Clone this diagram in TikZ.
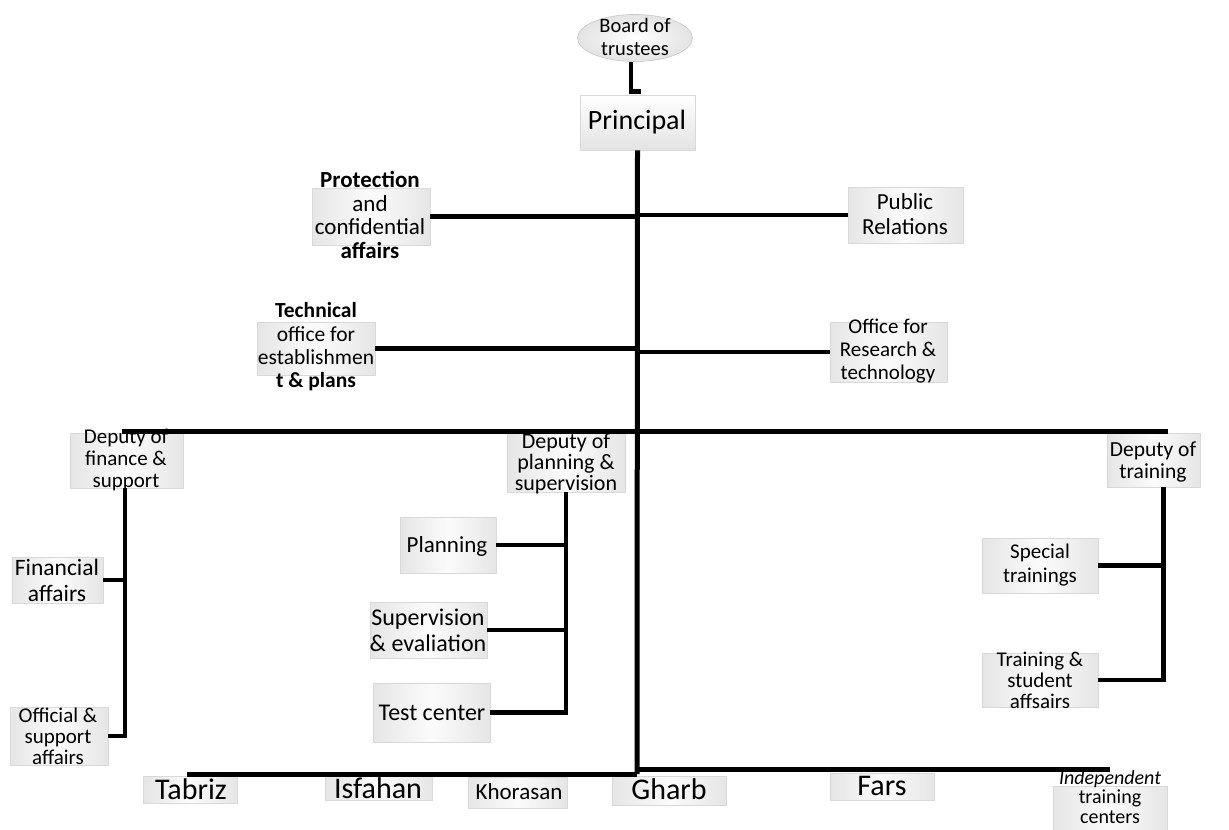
\documentclass[tikz,border=0pt]{standalone}
\usepackage{fontspec}
\setmainfont{Carlito}
\usetikzlibrary{shapes.geometric}
\newcommand{\fz}[2]{\fontsize{#1bp}{#2bp}\selectfont}
\begin{document}
\begin{tikzpicture}[x=1bp,y=-1bp,
  box/.style={rectangle, draw=gray!30, line width=0.6bp, left color=gray!20,
    right color=gray!20, middle color=gray!3, inner sep=0pt},
  lbl/.style={align=center, inner sep=0pt, text=black},
  conn/.style={line width=4.5bp, black},
  bus/.style={line width=5bp, black}]
\useasboundingbox (0,0) rectangle (1229,830);
\newcommand{\bx}[4]{\node[box, minimum width=#3bp, minimum height=#4bp] (#1) at (#2) {};}

% boxes
\node[ellipse, draw=gray!45, line width=0.6bp, inner color=white, outer color=gray!22,
  minimum width=115bp, minimum height=47bp] (board) at (635,38) {};
\node[box, top color=white, bottom color=gray!22, minimum width=115bp, minimum height=55bp] (principal) at (637.5,122.5) {};
\bx{prot}{371,216.5}{118}{57}
\bx{pub}{905.5,215}{115}{56}
\bx{tech}{316,348.5}{118}{53}
\bx{res}{888.5,352}{117}{60}
\bx{depfin}{126.5,460.5}{113}{55}
\bx{deppl}{566,462.5}{118}{59}
\bx{deptr}{1153.5,460}{93}{54}
\bx{fin}{57.5,580}{91}{46}
\bx{off}{59,736}{98}{58}
\bx{plan}{448,545}{96}{56}
\bx{sup}{428.5,630}{117}{56}
\bx{test}{431.5,712.5}{117}{59}
\bx{spec}{1040,565.5}{116}{55}
\bx{trst}{1040,680}{116}{54}
\bx{tabriz}{190,789.5}{94}{27}
\bx{isf}{378.5,788.5}{107}{24}
\bx{khor}{517.5,792.5}{99}{31}
\bx{gharb}{669,790.5}{114}{29}
\bx{fars}{882,786.5}{104}{27}
\bx{indep}{1110,808}{114}{44}

% labels
\node[lbl, font=\fz{20.5}{23}] (board-t) at (635,37) {Board of\\trustees};
\node[lbl, font=\fz{28}{30}] (principal-t) at (637,122) {Principal};
\node[lbl, font=\fz{23}{23.5}] (prot-t) at (370,215) {{\bfseries Protection}\\and\\confidential\\{\bfseries affairs}};
\node[lbl, font=\fz{23}{25}] (pub-t) at (905,214) {Public\\Relations};
\node[lbl, font=\fz{21.5}{23.3}] (tech-t) at (316,347) {{\bfseries Technical}\\office for\\establishmen\\{\bfseries t \& plans}};
\node[lbl, font=\fz{21}{23}] (res-t) at (888,351) {Office for\\Research \&\\technology};
\node[lbl, font=\fz{21}{22}] (depfin-t) at (126,460) {Deputy of\\finance \&\\support};
\node[lbl, font=\fz{22}{21}] (deppl-t) at (566,464) {Deputy of\\planning \&\\supervision};
\node[lbl, font=\fz{21.5}{22}] (deptr-t) at (1153,462) {Deputy of\\training};
\node[lbl, font=\fz{23.5}{26}] (fin-t) at (57,580) {Financial\\affairs};
\node[lbl, font=\fz{21}{21}] (off-t) at (58,736) {Official \&\\support\\affairs};
\node[lbl, font=\fz{23}{25}] (plan-t) at (447,546) {Planning};
\node[lbl, font=\fz{24}{26}] (sup-t) at (428,630) {Supervision\\\& evaliation};
\node[lbl, font=\fz{24}{26}] (test-t) at (432,713) {Test center};
\node[lbl, font=\fz{21}{24}] (spec-t) at (1040,565) {Special\\trainings};
\node[lbl, font=\fz{21}{21}] (trst-t) at (1040,680) {Training \&\\student\\affsairs};
\node[lbl, font=\fz{30}{30}] (tabriz-t) at (191,789) {Tabriz};
\node[lbl, font=\fz{30}{30}] (isf-t) at (378,788) {Isfahan};
\node[lbl, font=\fz{23}{25}] (khor-t) at (519,792) {Khorasan};
\node[lbl, font=\fz{30}{30}] (gharb-t) at (669,789) {Gharb};
\node[lbl, font=\fz{30}{30}] (fars-t) at (882,786) {Fars};
\node[lbl, font=\fz{20}{19.5}] (indep-t) at (1110,797) {{\itshape Independent}\\training\\centers};

% connectors
\coordinate (busL) at (122,431);
\coordinate (busR) at (1168,431);
\coordinate (tkbot) at (637,774);
\coordinate (bbL) at (187,774);
\coordinate (bbR) at (1110,769);

\draw[conn] (board.south -| 631,0) |- ([shift={(3,-3)}]principal.north);
\draw[bus] (principal.south) -- (tkbot);
\draw[conn] (prot.east) -- (prot.east -| principal.south);
\draw[conn] (pub.west -| principal.south) -- (pub.west);
\draw[conn] (tech.east) -- (tech.east -| principal.south);
\draw[conn] (res.west -| principal.south) -- (res.west);
\draw[bus] (busL) -- (busR);

\draw[conn] (depfin.south -| 125,0) |- (off.east);
\draw[conn] (fin.east) -- (fin.east -| 125,0);

\draw[conn] (deppl.south) |- (test.east);
\draw[conn] (plan.east) -- (plan.east -| deppl.south);
\draw[conn] (sup.east) -- (sup.east -| deppl.south);

\draw[conn] ([xshift=10bp]deptr.south) |- (trst.east);
\draw[conn] (spec.east) -- (spec.east -| 1163.5,0);

\draw[bus] (bbL) -- (tkbot);
\draw[bus] (tkbot |- bbR) -- (bbR);
\end{tikzpicture}
\end{document}
